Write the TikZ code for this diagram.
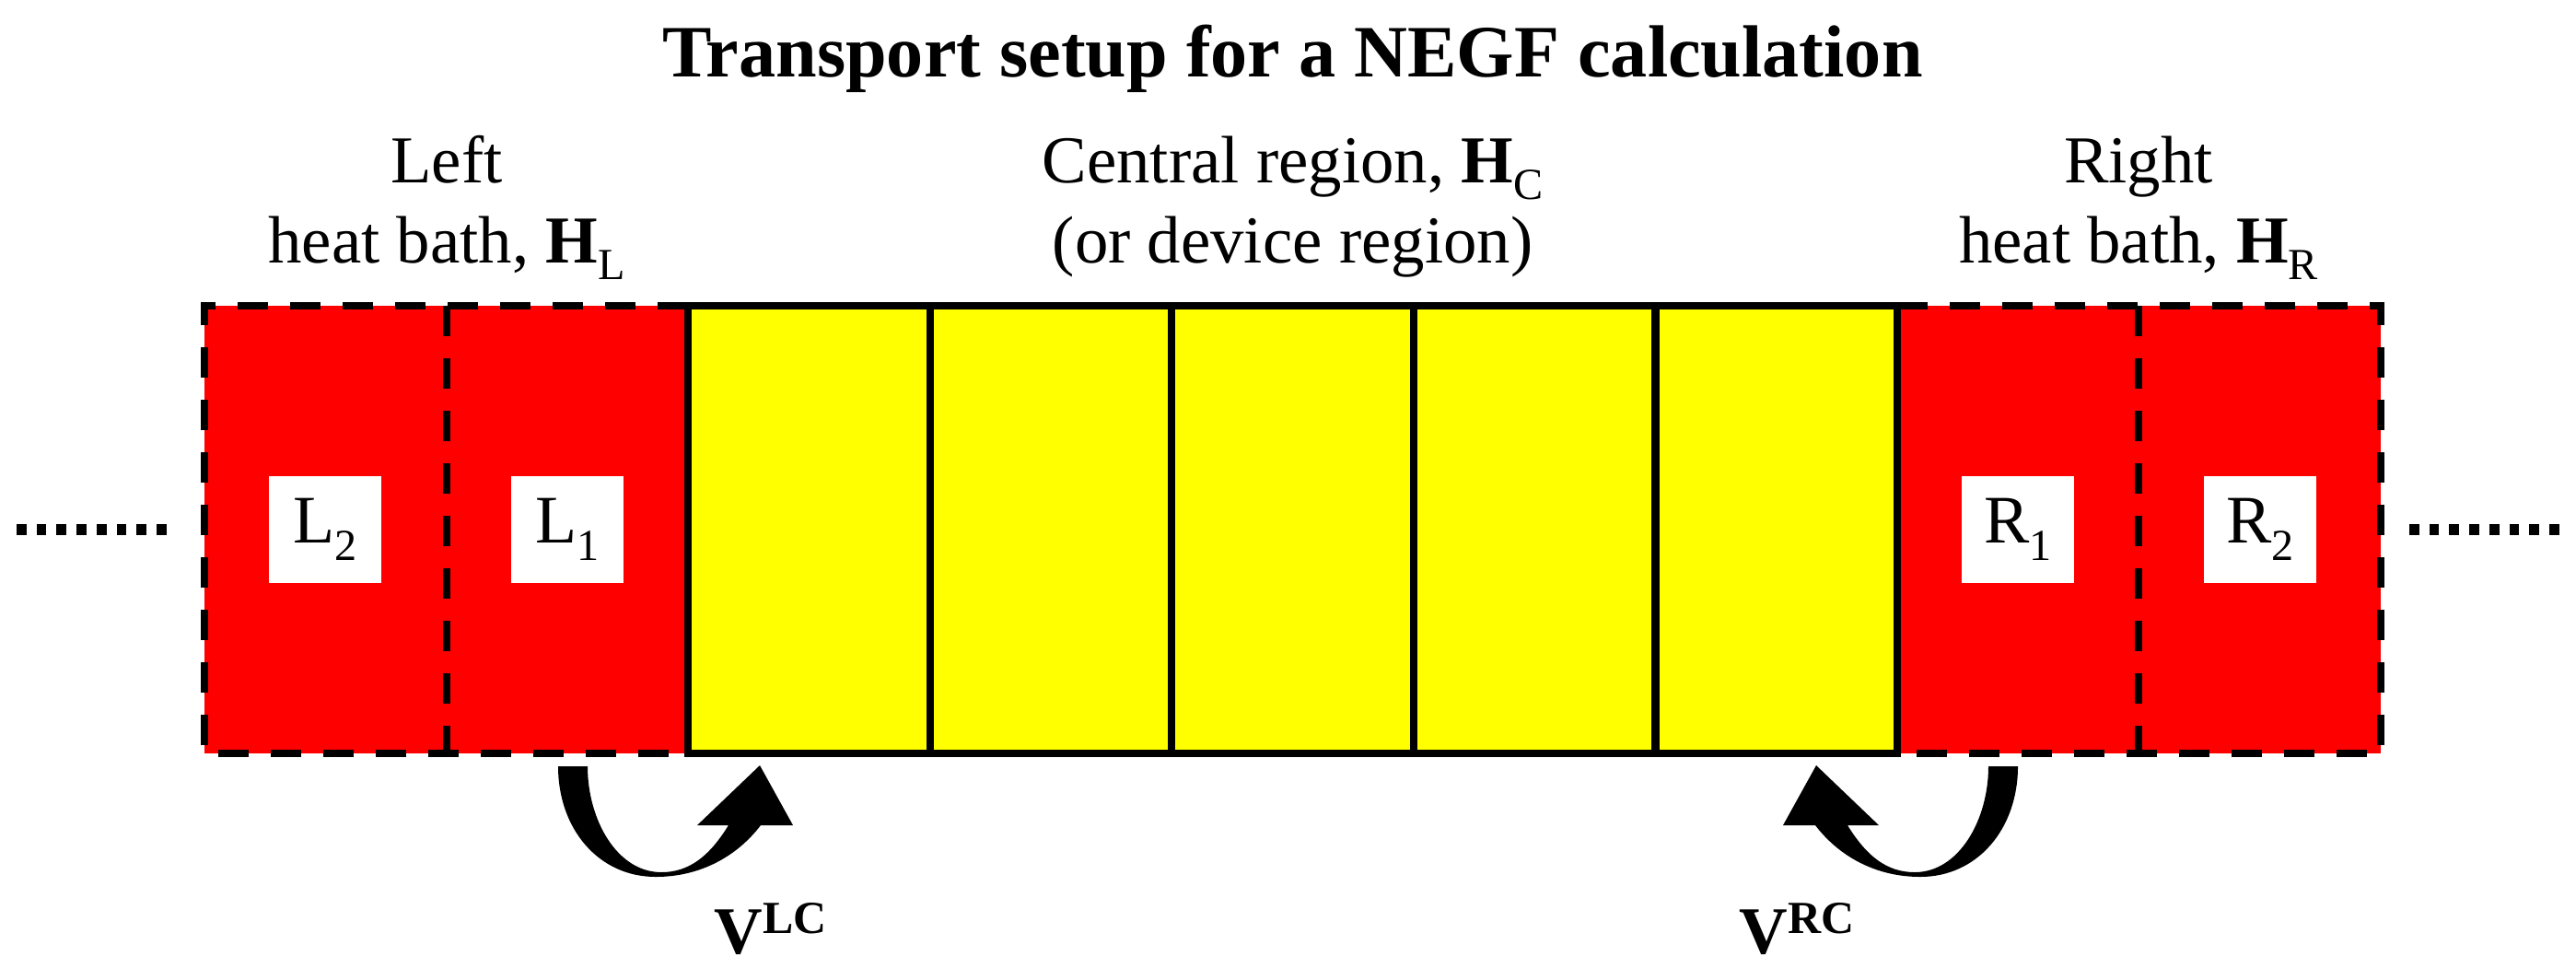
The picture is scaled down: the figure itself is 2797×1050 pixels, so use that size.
\documentclass[tikz,border=0pt]{standalone}
\usepackage{fontspec}
\setmainfont{Liberation Serif}
\definecolor{cellyellow}{RGB}{255,255,0}
\definecolor{cellred}{RGB}{255,0,0}
\newcommand\subx[1]{\raisebox{-0.25em}{\fontsize{13.7}{14}\selectfont #1}}
\newcommand\supx[1]{\raisebox{0.3em}{\bfseries\fontsize{14.2}{15}\selectfont #1}}
\begin{document}
\begin{tikzpicture}[x=0.01cm,y=-0.01cm,
  cell/.style={rectangle, minimum width=2.626cm, minimum height=4.86cm, inner sep=0pt, outer sep=0pt},
  redcell/.style={cell, fill=cellred},
  yelcell/.style={cell, fill=cellyellow},
  dline/.style={line width=0.08cm, dash pattern=on 0.33cm off 0.24cm},
  sline/.style={line width=0.08cm},
  lblbox/.style={rectangle, fill=white, minimum width=1.22cm, minimum height=1.15cm, inner sep=0pt, font=\fontsize{21}{25}\selectfont},
  hdr/.style={align=center, inner sep=0pt, anchor=base, font=\fontsize{20.7}{24.7}\selectfont},
  dots/.style={line width=0.12cm, dash pattern=on 0.107cm off 0.11cm},
  vlab/.style={anchor=base west, inner sep=0pt, font=\bfseries\fontsize{20.7}{24.7}\selectfont},
  couparrow/.pic={
    \fill[black] (606,832) .. controls (606,900) and (650,952) .. (712,952)
      .. controls (760,952) and (800,930) .. (826,896) -- (861,896) -- (825,831)
      -- (757,896) -- (791,896) .. controls (770,930) and (748,947) .. (718,947)
      .. controls (670,947) and (638,890) .. (638,832) -- cycle;
  }
]
\useasboundingbox (0,0) rectangle (2797,1050);

% title
\node[anchor=base, inner sep=0pt, font=\bfseries\fontsize{22.8}{27}\selectfont] (title) at (1403.5,83) {Transport setup for a NEGF calculation};

% cells
\node[redcell] (L2) at (353.3,575) {};
\node[redcell] (L1) at (615.9,575) {};
\node[yelcell] (C1) at (878.4,575) {};
\node[yelcell] (C2) at (1141.0,575) {};
\node[yelcell] (C3) at (1403.5,575) {};
\node[yelcell] (C4) at (1666.1,575) {};
\node[yelcell] (C5) at (1928.6,575) {};
\node[redcell] (R1) at (2191.2,575) {};
\node[redcell] (R2) at (2453.7,575) {};

% dashed borders of the baths
\draw[dline] (L1.north east) -- (L2.north west) -- (L2.south west) -- (L1.south east);
\draw[dline] (L2.north east) -- (L2.south east);
\draw[dline] (R1.north west) -- (R2.north east) -- (R2.south east) -- (R1.south west);
\draw[dline] (R2.north west) -- (R2.south west);

% solid borders of the central region
\draw[sline] (C1.north west) rectangle (C5.south east);
\foreach \c in {C1,C2,C3,C4}{\draw[sline] (\c.north east) -- (\c.south east);}

% label boxes
\node[lblbox] (L2b) at (L2) {L\subx{2}};
\node[lblbox] (L1b) at (L1) {L\subx{1}};
\node[lblbox] (R1b) at (R1) {R\subx{1}};
\node[lblbox] (R2b) at (R2) {R\subx{2}};

% dotted continuations
\coordinate (dl1) at (18,575);
\coordinate (dl2) at (181,575);
\coordinate (dr1) at (2616,575);
\coordinate (dr2) at (2779,575);
\draw[dots] (dl1) -- (dl2);
\draw[dots] (dr1) -- (dr2);

% headers (anchor base = baseline of the last line)
\node[hdr] (lefttxt) at (485,285) {Left\\heat bath, \textbf{H}\subx{L}};
\node[hdr] (centtxt) at (1403.5,285) {Central region, \textbf{H}\subx{C}\\(or device region)};
\node[hdr] (righttxt) at (2322,285) {Right\\heat bath, \textbf{H}\subx{R}};

% coupling arrows
\pic at (0,0) {couparrow};
\pic[xscale=-1] at (2797,0) {couparrow};

% coupling labels
\node[vlab] (vlc) at (775,1035) {V\supx{LC}};
\node[vlab] (vrc) at (1888,1035) {V\supx{RC}};
\end{tikzpicture}
\end{document}
